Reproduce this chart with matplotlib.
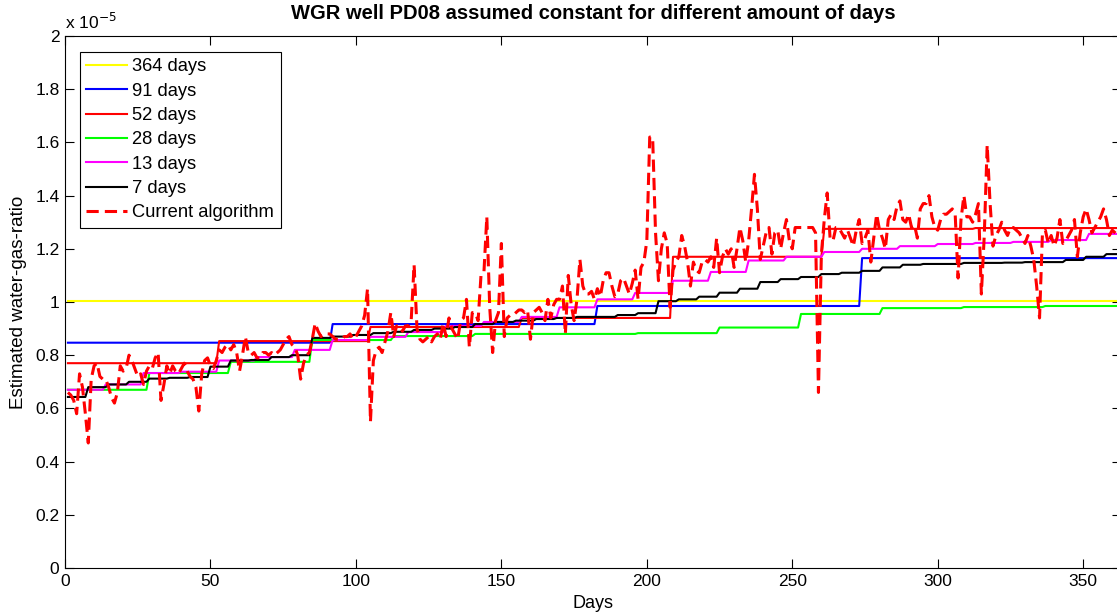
import matplotlib

matplotlib.use('agg')
import matplotlib.pyplot as plt
from matplotlib.ticker import FuncFormatter
import numpy as np

plt.rcParams["font.family"] = ["Liberation Sans", "DejaVu Sans"]
plt.rcParams.update({'font.size': 12.5})

# Water-gas-ratio in units of 1e-5
SCALE = 1e-5
N_DAYS = 363

# Constant estimates, one value per averaging period
wgr_364 = [1.003]
wgr_91 = [0.847, 0.917, 0.985, 1.165]
wgr_52 = [0.77, 0.853, 0.906, 0.94, 1.17, 1.275, 1.278]
wgr_28 = [0.67, 0.733, 0.775, 0.857, 0.872, 0.88, 0.88, 0.883, 0.904, 0.955,
          0.977, 0.981, 0.985]
wgr_13 = [0.67, 0.69, 0.733, 0.738, 0.78, 0.793, 0.82, 0.857, 0.869, 0.887,
          0.91, 0.925, 0.944, 0.98, 1.01, 1.034, 1.08, 1.113, 1.156, 1.17,
          1.188, 1.2, 1.21, 1.218, 1.222, 1.226, 1.233, 1.256]
wgr_7 = [0.643, 0.68, 0.69, 0.70, 0.712, 0.715, 0.718, 0.757, 0.78, 0.782,
         0.793, 0.80, 0.865, 0.87, 0.876, 0.883, 0.888, 0.895, 0.90, 0.906,
         0.917, 0.925, 0.93, 0.936, 0.94, 0.944, 0.944, 0.951, 0.958, 1.003,
         1.01, 1.02, 1.035, 1.05, 1.075, 1.086, 1.094, 1.105, 1.11, 1.117,
         1.13, 1.14, 1.143, 1.143, 1.147, 1.147, 1.148, 1.15, 1.15, 1.158,
         1.17, 1.18]

# Daily estimate from the current algorithm
wgr_current = [
    0.66, 0.65, 0.63, 0.58, 0.73, 0.68, 0.58, 0.47, 0.71, 0.76,
    0.77, 0.72, 0.71, 0.71, 0.68, 0.64, 0.62, 0.66, 0.76, 0.74,
    0.75, 0.80, 0.78, 0.75, 0.72, 0.73, 0.69, 0.74, 0.76, 0.75,
    0.79, 0.81, 0.63, 0.69, 0.76, 0.73, 0.76, 0.74, 0.73, 0.75,
    0.77, 0.74, 0.72, 0.71, 0.68, 0.59, 0.73, 0.78, 0.79, 0.76,
    0.75, 0.78, 0.82, 0.81, 0.83, 0.84, 0.82, 0.84, 0.81, 0.74,
    0.80, 0.87, 0.81, 0.80, 0.81, 0.79, 0.79, 0.81, 0.81, 0.80,
    0.81, 0.80, 0.81, 0.82, 0.84, 0.86, 0.87, 0.84, 0.83, 0.80,
    0.71, 0.77, 0.80, 0.81, 0.86, 0.92, 0.89, 0.87, 0.88, 0.88,
    0.88, 0.87, 0.86, 0.86, 0.86, 0.87, 0.87, 0.88, 0.86, 0.87,
    0.89, 0.91, 0.95, 1.05, 0.55, 0.78, 0.82, 0.83, 0.81, 0.85,
    0.89, 0.96, 0.87, 0.91, 0.91, 0.89, 0.91, 0.91, 0.93, 1.14,
    0.90, 0.86, 0.85, 0.86, 0.87, 0.85, 0.87, 0.88, 0.86, 0.92,
    0.87, 0.94, 0.90, 0.88, 0.86, 0.93, 0.94, 1.01, 0.83, 0.96,
    0.96, 0.93, 1.10, 1.11, 1.32, 0.98, 0.81, 0.93, 0.96, 1.22,
    0.87, 0.94, 0.95, 0.95, 0.96, 0.97, 0.97, 0.96, 0.97, 0.86,
    0.96, 0.97, 0.98, 0.96, 0.93, 1.01, 0.94, 0.99, 1.01, 1.01,
    1.06, 0.88, 1.10, 0.99, 0.93, 1.01, 1.16, 1.06, 1.03, 1.03,
    1.04, 1.01, 1.05, 1.02, 1.08, 1.11, 1.11, 1.06, 1.02, 1.03,
    1.08, 1.09, 1.06, 1.03, 1.07, 1.12, 1.01, 1.13, 1.15, 1.23,
    1.62, 1.62, 1.26, 1.08, 1.20, 1.26, 1.22, 0.98, 1.12, 1.15,
    1.17, 1.25, 1.21, 1.15, 1.06, 1.15, 1.12, 1.11, 1.15, 1.16,
    1.15, 1.17, 1.13, 1.24, 1.11, 1.17, 1.20, 1.18, 1.20, 1.13,
    1.20, 1.28, 1.23, 1.15, 1.23, 1.35, 1.48, 1.35, 1.16, 1.21,
    1.26, 1.28, 1.18, 1.26, 1.27, 1.20, 1.26, 1.31, 1.23, 1.20,
    1.28, 1.28, 1.28, 1.28, 1.28, 1.28, 1.28, 1.26, 0.66, 1.18,
    1.31, 1.41, 1.24, 1.23, 1.28, 1.28, 1.26, 1.24, 1.27, 1.24,
    1.21, 1.27, 1.31, 1.22, 1.24, 1.27, 1.15, 1.24, 1.33, 1.27,
    1.24, 1.20, 1.31, 1.33, 1.31, 1.36, 1.38, 1.31, 1.30, 1.33,
    1.28, 1.29, 1.24, 1.35, 1.37, 1.37, 1.40, 1.32, 1.28, 1.27,
    1.31, 1.33, 1.33, 1.34, 1.35, 1.33, 1.09, 1.31, 1.40, 1.32,
    1.32, 1.30, 1.33, 1.37, 1.03, 1.25, 1.59, 1.37, 1.21, 1.25,
    1.27, 1.30, 1.27, 1.25, 1.28, 1.28, 1.27, 1.26, 1.24, 1.22,
    1.25, 1.21, 1.16, 1.06, 0.94, 1.26, 1.27, 1.22, 1.25, 1.21,
    1.24, 1.31, 1.22, 1.23, 1.25, 1.27, 1.31, 1.17, 1.26, 1.32,
    1.35, 1.31, 1.26, 1.28, 1.30, 1.32, 1.35, 1.31, 1.25, 1.27,
    1.26, 1.25, 1.24,
]

series = [
    (364, wgr_364, '#ffff00', '364 days'),
    (91, wgr_91, '#0000ff', '91 days'),
    (52, wgr_52, '#ff0000', '52 days'),
    (28, wgr_28, '#00ff00', '28 days'),
    (13, wgr_13, '#ff00ff', '13 days'),
    (7, wgr_7, '#000000', '7 days'),
]


def hold_constant(values, period):
    """
    Repeat each period value for every day of that period
    """
    daily = np.repeat(values, period)[:N_DAYS]
    return np.asarray(daily) * SCALE


days = np.arange(1, N_DAYS + 1)

fig = plt.figure(figsize=(11.17, 6.14), dpi=100)
ax = fig.add_axes([65 / 1117., 46 / 614., 1056 / 1117., 532 / 614.])

for period, values, color, label in series:
    ax.plot(days, hold_constant(values, period), color=color, linewidth=1.5, label=label)
ax.plot(days, np.asarray(wgr_current) * SCALE, '--', color='#ff0000', linewidth=2.2,
        dashes=(4, 2), label='Current algorithm')

ax.set_xlim(0, N_DAYS)
ax.set_ylim(0, 2e-5)
ax.set_xticks(np.arange(0, 351, 50))
ax.set_yticks(np.arange(0, 2.01e-5, 0.2e-5))
ax.yaxis.set_major_formatter(FuncFormatter(lambda v, pos: '%g' % round(v / SCALE, 2)))
ax.tick_params(direction='in', length=6.5, width=0.8, top=True, right=True, pad=4)
for spine in ax.spines.values():
    spine.set_linewidth(0.8)

ax.text(0.0, 1.008, r'x 10$^{-5}$', transform=ax.transAxes, ha='left', va='bottom')
ax.set_title('WGR well PD08 assumed constant for different amount of days',
             fontweight='bold', fontsize=14.5, pad=12)
ax.set_xlabel('Days', fontsize=13, labelpad=5)
ax.set_ylabel('Estimated water-gas-ratio', fontsize=13.5, labelpad=6)

leg = ax.legend(loc='upper left', bbox_to_anchor=(15 / 1056., 1 - 16 / 532.),
                fancybox=False, framealpha=1, edgecolor='black', borderaxespad=0,
                fontsize=13.2, handlelength=2.2, handletextpad=0.3,
                labelspacing=0.4, borderpad=0.35)
leg.get_frame().set_linewidth(0.8)

fig.savefig('out.png', dpi=100)
